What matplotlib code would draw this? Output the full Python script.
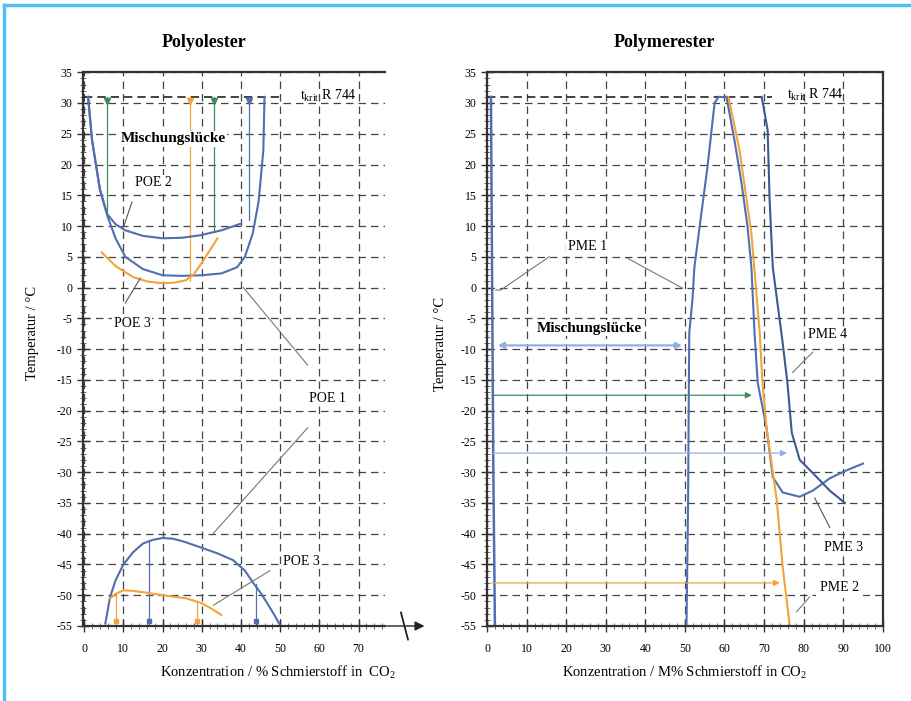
import matplotlib
matplotlib.use("Agg")
from matplotlib import pyplot as plt
from matplotlib.ticker import MultipleLocator
from matplotlib.lines import Line2D

plt.rcParams['font.family'] = ['Liberation Serif', 'DejaVu Serif']
plt.rcParams['axes.unicode_minus'] = False
plt.rcParams['mathtext.fontset'] = 'custom'
plt.rcParams['mathtext.rm'] = 'Liberation Serif'

BLUE = '#4f6fb0'
DBLUE = '#3d5a8f'
ORANGE = '#f2a33a'
GREEN = '#3e8c5e'
LBLUE = '#8fb0e0'

# ---- Polyolester data ----
poe1_up_x = [1, 2, 4, 6, 8, 10.5, 15, 20, 25, 30, 35, 39, 41, 43, 44.5, 45.7, 46]
poe1_up_y = [31, 24, 16, 11.5, 8, 5, 3, 2, 1.9, 2, 2.3, 3.3, 5, 8.8, 14, 22.3, 31]
poe2_x = [1, 2, 4, 5.8, 8, 10.5, 15, 20, 25, 29.6, 35, 40]
poe2_y = [31, 24, 16, 12, 10.3, 9.3, 8.4, 8, 8.1, 8.5, 9.3, 10.4]
poe3_up_x = [4.5, 8, 12.5, 16, 20, 23, 26, 28, 30, 32, 34]
poe3_up_y = [5.7, 3.5, 1.7, 1.0, 0.7, 0.8, 1.2, 2.2, 4, 6, 8]
poe1_lo_x = [5.4, 6.6, 8, 10, 12.5, 15, 17.5, 20, 22.5, 25, 29.6, 34, 38, 41, 43, 45, 46.7, 48.5, 50]
poe1_lo_y = [-54.6, -50.3, -47.6, -45, -43, -41.6, -41, -40.7, -40.8, -41.2, -42.2, -43.2, -44.3, -46, -47.9, -49.6, -51.3, -53.2, -54.9]
poe3_lo_x = [6.6, 8, 10, 12.5, 15, 20, 26, 30, 32.5, 35]
poe3_lo_y = [-50.5, -49.8, -49.2, -49.3, -49.5, -50, -50.5, -51.3, -52.2, -53.2]
poe_vlines_top = [(5.8, 12, GREEN), (27, 1.0, ORANGE), (33, 9.1, GREEN), (42, 11, BLUE)]
poe_vlines_bot = [(8, -49.8, ORANGE), (16.6, -41.1, BLUE), (28.8, -51.0, ORANGE), (43.8, -48.2, BLUE)]

# ---- Polymerester data ----
pme1_left_x = [1, 1.3, 1.6, 2]
pme1_left_y = [31, 0, -30, -55]
pme1_right_x = [58.5, 57.5, 55.7, 53.7, 52.4, 51.9, 51.1, 51.0, 50.8, 50.4]
pme1_right_y = [31, 30, 19.6, 9.8, 3.3, -2, -7.4, -15.5, -35, -55]
pme3_x = [60.5, 62.5, 64.3, 65.8, 66.8, 67.6, 68.4, 70.6, 72.2, 74.7, 79, 82.3, 86.6, 90.5, 95]
pme3_y = [31, 24, 17, 10, 3.3, -7.5, -15.5, -22.7, -30.8, -33.3, -34, -33, -31, -29.8, -28.6]
pme4_x = [69.4, 70.9, 71.4, 72.2, 74.7, 75.9, 77, 79, 83.3, 86.6, 90.4]
pme4_y = [31, 25.6, 14.2, 3.3, -9, -15.5, -23.6, -28, -30.8, -33, -35]
pme2_x = [61, 63.8, 66.8, 68.9, 69.6, 70.6, 73.2, 74.7, 76.5]
pme2_y = [31, 22.3, 8.8, -7.4, -15.5, -22.7, -34.5, -45.4, -55]
pme_arrows = [(-17.5, 67.6, GREEN), (-26.9, 76.5, LBLUE), (-48.0, 74.7, ORANGE)]

xticks_left = [0, 10, 20, 30, 40, 50, 60, 70]
xticks_right = [0, 10, 20, 30, 40, 50, 60, 70, 80, 90, 100]
yticks = list(range(-55, 36, 5))

TKRIT = "t$_{\\mathrm{krit}}$ R 744"
LBL = dict(facecolor='white', edgecolor='none', pad=1.0)


def style_axes(ax):
    """grid, ticks and limits shared by both panels"""
    ax.set_ylim(-55, 35)
    ax.set_yticks(yticks)
    ax.yaxis.set_minor_locator(MultipleLocator(1))
    ax.xaxis.set_minor_locator(MultipleLocator(2))
    ax.tick_params(which='major', direction='inout', length=8, width=1.0,
                   labelsize=8.5, color='#333333')
    ax.tick_params(which='minor', direction='inout', length=5, width=0.6,
                   color='#555555')
    ax.tick_params(axis='x', pad=8)
    ax.grid(True, which='major', linestyle=(0, (6, 4)), color='#444444',
            linewidth=0.9)
    for s in ax.spines.values():
        s.set_linewidth(1.6)
        s.set_color('#333333')


fig = plt.figure(figsize=(9.12, 7.01), dpi=100)
fig.patch.set_facecolor('white')
fig.add_artist(Line2D([0.004, 0.004], [0, 0.993], color='#4fc3f7', lw=2.5))
fig.add_artist(Line2D([0.004, 1], [0.993, 0.993], color='#4fc3f7', lw=2.5))

# ---------------- left panel ----------------
ax1 = fig.add_axes([0.091, 0.107, 0.331, 0.790])
style_axes(ax1)
ax1.set_xlim(-0.3, 76.7)
ax1.set_xticks(xticks_left)
ax1.spines['right'].set_visible(False)
ax1.text(0.40, 1.054, "Polyolester", transform=ax1.transAxes, fontsize=13,
         fontweight='bold', ha='center', va='center')
ax1.set_ylabel("Temperatur / °C", fontsize=10.5)
ax1.yaxis.set_label_coords(-0.145, 0.53)
ax1.set_xlabel("Konzentration / % Schmierstoff in  CO$_2$", fontsize=10.5)
ax1.xaxis.set_label_coords(0.645, -0.068)

ax1.plot([0, 51], [31, 31], color='#222222', lw=1.2, ls=(0, (5, 3)))
ax1.text(55, 31.2, TKRIT, fontsize=10, va='center')
for x, y, c in poe_vlines_top:
    ax1.plot([x, x], [31, y], color=c, lw=0.9)
    ax1.plot(x, 30.3, marker='v', color=c, ms=4)
for x, y, c in poe_vlines_bot:
    ax1.plot([x, x], [-55, y], color=c, lw=0.9)
    ax1.plot(x, -54.2, marker='s', color=c, ms=3.5)

ax1.plot(poe1_up_x, poe1_up_y, color=BLUE, lw=1.5)
ax1.plot(poe2_x, poe2_y, color=BLUE, lw=1.5)
ax1.plot(poe3_up_x, poe3_up_y, color=ORANGE, lw=1.5)
ax1.plot(poe1_lo_x, poe1_lo_y, color=BLUE, lw=1.5)
ax1.plot(poe3_lo_x, poe3_lo_y, color=ORANGE, lw=1.5)

ax1.text(22.8, 23.6, "Mischungslücke", fontsize=11, fontweight='bold', ha='center',
         bbox=LBL, zorder=4)
ax1.text(17.6, 17, "POE 2", fontsize=10, ha='center', va='center', bbox=LBL, zorder=4)
ax1.plot([12.2, 10], [13.9, 9.8], color='#555555', lw=0.8)
ax1.text(12.2, -5.8, "POE 3", fontsize=10, ha='center', va='center', bbox=LBL, zorder=4)
ax1.plot([10.5, 14.3], [-2.5, 1.5], color='#555555', lw=0.8)
ax1.text(62, -18, "POE 1", fontsize=10, ha='center', va='center', bbox=LBL, zorder=4)
ax1.plot([57, 40.6], [-12.6, 0], color='#777777', lw=0.8)
ax1.plot([57, 32.6], [-22.8, -40.2], color='#777777', lw=0.8)
ax1.text(55.5, -44.5, "POE 3", fontsize=10, ha='center', va='center', bbox=LBL, zorder=4)
ax1.plot([47.4, 33], [-46, -51.6], color='#777777', lw=0.8)

# axis break and arrow beyond the left panel
ax1.annotate("", xy=(87.5, -55), xytext=(76.5, -55), xycoords='data',
             annotation_clip=False,
             arrowprops=dict(arrowstyle='-|>', color='#222222', lw=1.0,
                             mutation_scale=14))
ax1.plot([80.8, 82.6], [-52.8, -57.2], color='#222222', lw=1.3, clip_on=False)

# ---------------- right panel ----------------
ax2 = fig.add_axes([0.534, 0.107, 0.434, 0.790])
style_axes(ax2)
ax2.set_xlim(0, 100)
ax2.set_xticks(xticks_right)
ax2.text(0.447, 1.054, "Polymerester", transform=ax2.transAxes, fontsize=13,
         fontweight='bold', ha='center', va='center')
ax2.set_ylabel("Temperatur / °C", fontsize=10.5)
ax2.yaxis.set_label_coords(-0.10, 0.51)
ax2.set_xlabel("Konzentration / M% Schmierstoff in CO$_2$", fontsize=10.5)
ax2.xaxis.set_label_coords(0.5, -0.068)

ax2.plot([0, 72], [31, 31], color='#222222', lw=1.2, ls=(0, (5, 3)))
ax2.text(75.7, 31.4, TKRIT, fontsize=10, va='center')

ax2.plot(pme1_left_x, pme1_left_y, color=BLUE, lw=1.8)
ax2.plot(pme1_right_x, pme1_right_y, color=BLUE, lw=1.5)
ax2.plot([pme1_right_x[0], pme3_x[0]], [31, 31], color=BLUE, lw=1.5)
ax2.plot(pme3_x, pme3_y, color=BLUE, lw=1.5)
ax2.plot(pme4_x, pme4_y, color=DBLUE, lw=1.5)
ax2.plot(pme2_x, pme2_y, color=ORANGE, lw=1.5)

for y, xe, c in pme_arrows:
    ax2.annotate("", xy=(xe, y), xytext=(0.5, y),
                 arrowprops=dict(arrowstyle='-|>', color=c, lw=0.9,
                                 mutation_scale=9))
ax2.annotate("", xy=(2, -9.4), xytext=(50, -9.4),
             arrowprops=dict(arrowstyle='<|-|>', color=LBLUE, lw=1.6,
                             mutation_scale=9))
ax2.text(25.8, -6.6, "Mischungslücke", fontsize=11, fontweight='bold', ha='center',
         va='center', bbox=LBL, zorder=4)

ax2.text(25.3, 6.6, "PME 1", fontsize=10, ha='center', va='center', bbox=LBL, zorder=4)
ax2.plot([15.7, 3.5, 2.2], [5, -0.4, -0.4], color='#777777', lw=0.8)
ax2.plot([35.4, 49.4], [4.8, -0.1], color='#777777', lw=0.8)
ax2.text(86, -7.7, "PME 4", fontsize=10, ha='center', va='center', bbox=LBL, zorder=4)
ax2.plot([82.3, 77.2], [-10.5, -13.8], color='#777777', lw=0.8)
ax2.text(90, -42.2, "PME 3", fontsize=10, ha='center', va='center', bbox=LBL, zorder=4)
ax2.plot([86.6, 82.8], [-39, -34.2], color='#555555', lw=0.8)
ax2.text(89, -48.7, "PME 2", fontsize=10, ha='center', va='center',
         bbox=dict(facecolor='white', edgecolor='none', pad=3), zorder=5)
ax2.plot([81.5, 78.2], [-50.3, -52.7], color='#777777', lw=0.8)

fig.savefig("out.png", dpi=100)
